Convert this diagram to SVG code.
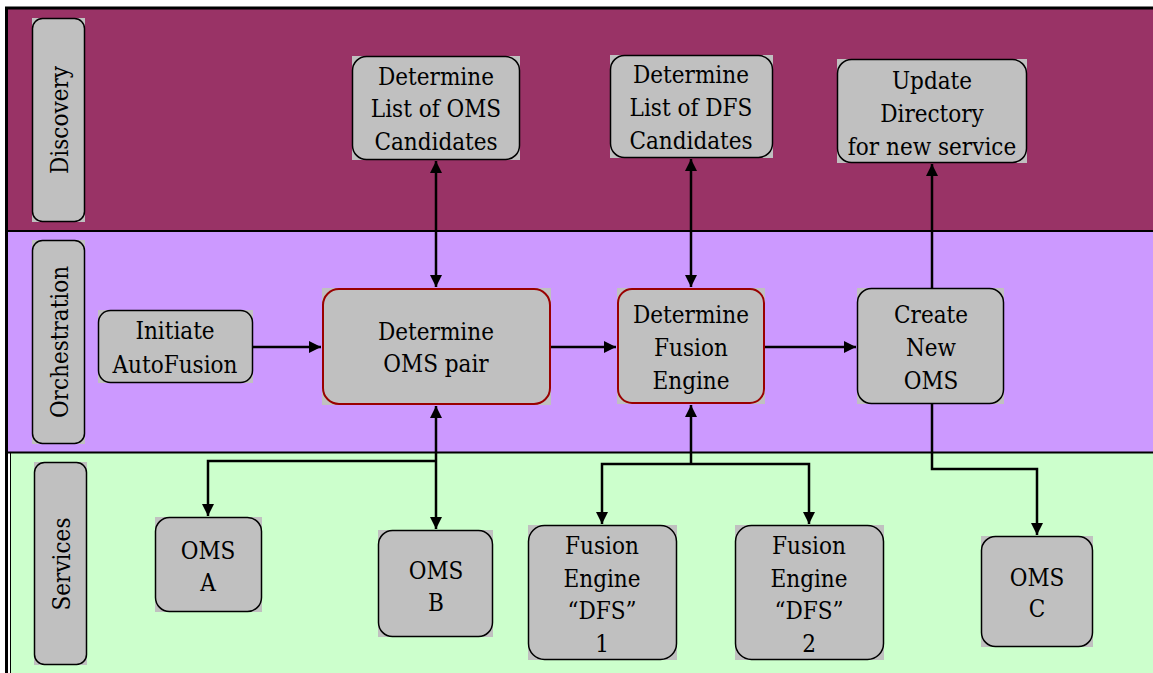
<svg xmlns="http://www.w3.org/2000/svg" width="1153" height="673" viewBox="0 0 1153 673">
<style>
.bg{fill:#C0C0C0}
.box{fill:#C0C0C0;stroke:#000;stroke-width:1.5}
.red{fill:#C0C0C0;stroke:#990000;stroke-width:2}
.t text{font-size:24px;fill:#000;text-anchor:middle}
.conn path{fill:none;stroke:#000;stroke-width:2.5}
</style>
<defs>
<marker id="arr" markerUnits="userSpaceOnUse" markerWidth="14" markerHeight="14" viewBox="0 0 14 14" refX="13" refY="7" orient="auto-start-reverse">
<path d="M1,1 L13,7 L1,13 Z" fill="#000"/>
</marker>
</defs>
<rect x="0" y="0" width="1153" height="673" fill="#fff"/>
<g id="lanes">
<rect x="8" y="9" width="1145" height="222" fill="#993366"/>
<rect x="8" y="231" width="1145" height="222" fill="#CC99FF"/>
<rect x="11" y="453" width="1142" height="220" fill="#CCFFCC"/>
<line x1="8" y1="231" x2="1153" y2="231" stroke="#000" stroke-width="2"/>
<line x1="8" y1="452.5" x2="1153" y2="452.5" stroke="#000" stroke-width="2"/>
<line x1="5" y1="8" x2="1153" y2="8" stroke="#000" stroke-width="3"/>
<line x1="6.5" y1="7" x2="6.5" y2="673" stroke="#000" stroke-width="3"/>
<line x1="10.5" y1="453" x2="10.5" y2="673" stroke="#000" stroke-width="1"/>
</g>
<g class="t" font-family="'DejaVu Serif Condensed', 'DejaVu Serif', 'Liberation Serif', serif" font-stretch="condensed">
<g id="lane-discovery">
<rect class="bg" x="32" y="18" width="53" height="204"/>
<rect class="box" x="32.5" y="18.5" width="52" height="203" rx="10"/>
<text transform="translate(58.5,120) rotate(-90)" y="9">Discovery</text>
</g>
<g id="lane-orchestration">
<rect class="bg" x="32" y="240" width="53" height="204"/>
<rect class="box" x="32.5" y="240.5" width="52" height="203" rx="10"/>
<text transform="translate(58.5,342) rotate(-90)" y="9">Orchestration</text>
</g>
<g id="lane-services">
<rect class="bg" x="34" y="462" width="53" height="203"/>
<rect class="box" x="34.5" y="462.5" width="52" height="202" rx="10"/>
<text transform="translate(60.5,564) rotate(-90)" y="9">Services</text>
</g>
<g id="oms-candidates">
<rect class="bg" x="352" y="56" width="168" height="104"/>
<rect class="box" x="352.5" y="56.5" width="167" height="103" rx="14"/>
<text x="436" y="85">Determine</text>
<text x="436" y="117">List of OMS</text>
<text x="436" y="150">Candidates</text>
</g>
<g id="dfs-candidates">
<rect class="bg" x="610" y="55" width="163" height="103"/>
<rect class="box" x="610.5" y="55.5" width="162" height="102" rx="14"/>
<text x="691" y="83">Determine</text>
<text x="691" y="116">List of DFS</text>
<text x="691" y="149">Candidates</text>
</g>
<g id="update-directory">
<rect class="bg" x="837" y="59" width="190" height="104"/>
<rect class="box" x="837.5" y="59.5" width="189" height="103" rx="14"/>
<text x="932" y="89">Update</text>
<text x="932" y="122">Directory</text>
<text x="932" y="155">for new service</text>
</g>
<g id="initiate">
<rect class="bg" x="98" y="310" width="155" height="73"/>
<rect class="box" x="98.5" y="310.5" width="154" height="72" rx="12"/>
<text x="175" y="339">Initiate</text>
<text x="175" y="373">AutoFusion</text>
</g>
<g id="oms-pair">
<rect class="bg" x="322" y="288" width="229" height="117"/>
<rect class="red" x="323" y="289" width="227" height="115" rx="16"/>
<text x="436" y="340">Determine</text>
<text x="436" y="372">OMS pair</text>
</g>
<g id="fusion-engine">
<rect class="bg" x="617" y="288" width="148" height="116"/>
<rect class="red" x="618" y="289" width="146" height="114" rx="14"/>
<text x="691" y="323">Determine</text>
<text x="691" y="356">Fusion</text>
<text x="691" y="389">Engine</text>
</g>
<g id="create-oms">
<rect class="bg" x="857" y="288" width="147" height="116"/>
<rect class="box" x="857.5" y="288.5" width="146" height="115" rx="14"/>
<text x="931" y="323">Create</text>
<text x="931" y="356">New</text>
<text x="931" y="389">OMS</text>
</g>
<g id="oms-a">
<rect class="bg" x="155" y="517" width="107" height="95"/>
<rect class="box" x="155.5" y="517.5" width="106" height="94" rx="14"/>
<text x="208" y="559">OMS</text>
<text x="208" y="591">A</text>
</g>
<g id="oms-b">
<rect class="bg" x="378" y="530" width="115" height="107"/>
<rect class="box" x="378.5" y="530.5" width="114" height="106" rx="14"/>
<text x="436" y="579">OMS</text>
<text x="436" y="611">B</text>
</g>
<g id="dfs-1">
<rect class="bg" x="528" y="525" width="149" height="135"/>
<rect class="box" x="528.5" y="525.5" width="148" height="134" rx="16"/>
<text x="602" y="554">Fusion</text>
<text x="602" y="587">Engine</text>
<text x="602" y="619">“DFS”</text>
<text x="602" y="652">1</text>
</g>
<g id="dfs-2">
<rect class="bg" x="735" y="525" width="149" height="135"/>
<rect class="box" x="735.5" y="525.5" width="148" height="134" rx="16"/>
<text x="809" y="554">Fusion</text>
<text x="809" y="587">Engine</text>
<text x="809" y="619">“DFS”</text>
<text x="809" y="652">2</text>
</g>
<g id="oms-c">
<rect class="bg" x="981" y="536" width="112" height="111"/>
<rect class="box" x="981.5" y="536.5" width="111" height="110" rx="14"/>
<text x="1037" y="586">OMS</text>
<text x="1037" y="617">C</text>
</g>
</g>
<g class="conn" id="connectors">
<path d="M436,287 V161" marker-start="url(#arr)" marker-end="url(#arr)"/>
<path d="M691,287 V159" marker-start="url(#arr)" marker-end="url(#arr)"/>
<path d="M932,288 V164" marker-end="url(#arr)"/>
<path d="M253,347 H321" marker-end="url(#arr)"/>
<path d="M551,347 H616" marker-end="url(#arr)"/>
<path d="M765,347 H856" marker-end="url(#arr)"/>
<path d="M436,406 V529" marker-start="url(#arr)" marker-end="url(#arr)"/>
<path d="M436,461 H208 V516" marker-end="url(#arr)"/>
<path d="M691,405 V464" marker-start="url(#arr)"/>
<path d="M602,524 V464 H809 V524" marker-start="url(#arr)" marker-end="url(#arr)"/>
<path d="M932,404 V469 H1037 V535" marker-end="url(#arr)"/>
</g>
</svg>
